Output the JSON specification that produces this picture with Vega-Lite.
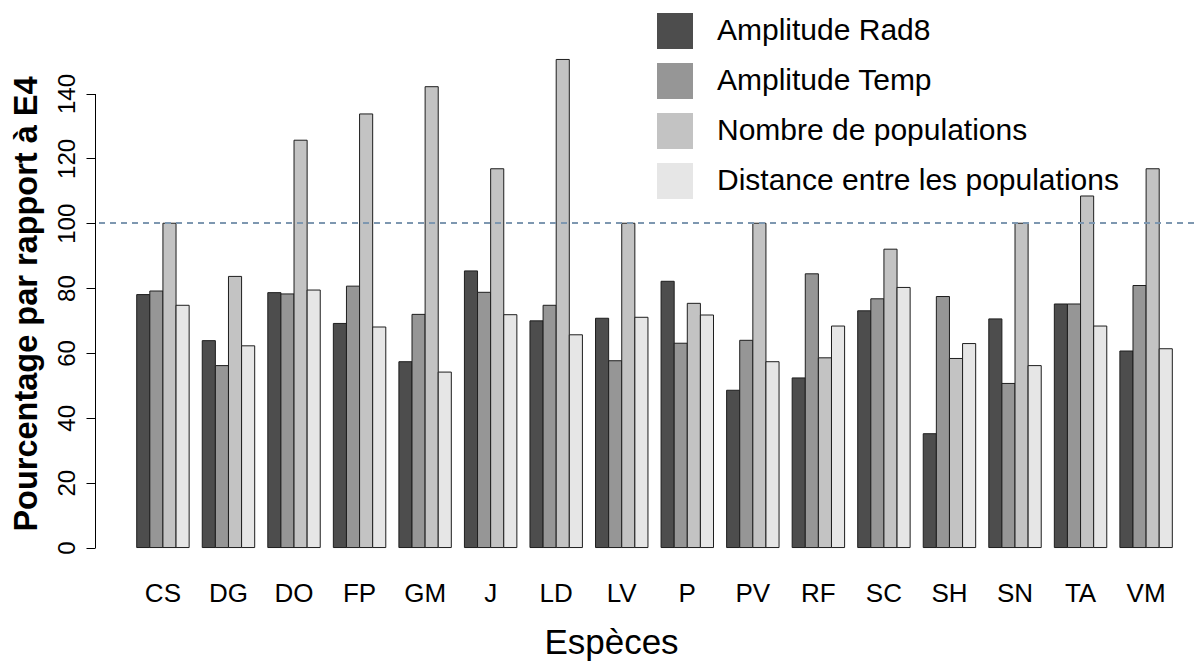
{
  "$schema": "https://vega.github.io/schema/vega-lite/v6.json",
  "width": 1099,
  "height": 527,
  "autosize": {"type": "none"},
  "padding": {"left": 95, "top": 40, "right": 0, "bottom": 97},
  "background": "white",
  "config": {
    "view": {"stroke": null},
    "font": "Liberation Sans",
    "axis": {"labelColor": "black", "titleColor": "black", "grid": false},
    "axisY": {"labelFontSize": 24},
    "legend": {"padding": 0}
  },
  "data": {
    "values": [
      {"espece": "CS", "variable": "Amplitude Rad8", "valeur": 78.0},
      {"espece": "CS", "variable": "Amplitude Temp", "valeur": 79.1},
      {"espece": "CS", "variable": "Nombre de populations", "valeur": 100.0},
      {"espece": "CS", "variable": "Distance entre les populations", "valeur": 74.7},
      {"espece": "DG", "variable": "Amplitude Rad8", "valeur": 63.8},
      {"espece": "DG", "variable": "Amplitude Temp", "valeur": 56.1},
      {"espece": "DG", "variable": "Nombre de populations", "valeur": 83.6},
      {"espece": "DG", "variable": "Distance entre les populations", "valeur": 62.2},
      {"espece": "DO", "variable": "Amplitude Rad8", "valeur": 78.6},
      {"espece": "DO", "variable": "Amplitude Temp", "valeur": 78.2},
      {"espece": "DO", "variable": "Nombre de populations", "valeur": 125.6},
      {"espece": "DO", "variable": "Distance entre les populations", "valeur": 79.4},
      {"espece": "FP", "variable": "Amplitude Rad8", "valeur": 69.1},
      {"espece": "FP", "variable": "Amplitude Temp", "valeur": 80.6},
      {"espece": "FP", "variable": "Nombre de populations", "valeur": 133.7},
      {"espece": "FP", "variable": "Distance entre les populations", "valeur": 68.0},
      {"espece": "GM", "variable": "Amplitude Rad8", "valeur": 57.3},
      {"espece": "GM", "variable": "Amplitude Temp", "valeur": 71.9},
      {"espece": "GM", "variable": "Nombre de populations", "valeur": 142.1},
      {"espece": "GM", "variable": "Distance entre les populations", "valeur": 54.1},
      {"espece": "J", "variable": "Amplitude Rad8", "valeur": 85.3},
      {"espece": "J", "variable": "Amplitude Temp", "valeur": 78.7},
      {"espece": "J", "variable": "Nombre de populations", "valeur": 116.8},
      {"espece": "J", "variable": "Distance entre les populations", "valeur": 71.8},
      {"espece": "LD", "variable": "Amplitude Rad8", "valeur": 69.9},
      {"espece": "LD", "variable": "Amplitude Temp", "valeur": 74.7},
      {"espece": "LD", "variable": "Nombre de populations", "valeur": 150.5},
      {"espece": "LD", "variable": "Distance entre les populations", "valeur": 65.6},
      {"espece": "LV", "variable": "Amplitude Rad8", "valeur": 70.7},
      {"espece": "LV", "variable": "Amplitude Temp", "valeur": 57.6},
      {"espece": "LV", "variable": "Nombre de populations", "valeur": 100.0},
      {"espece": "LV", "variable": "Distance entre les populations", "valeur": 71.0},
      {"espece": "P", "variable": "Amplitude Rad8", "valeur": 82.1},
      {"espece": "P", "variable": "Amplitude Temp", "valeur": 63.0},
      {"espece": "P", "variable": "Nombre de populations", "valeur": 75.3},
      {"espece": "P", "variable": "Distance entre les populations", "valeur": 71.7},
      {"espece": "PV", "variable": "Amplitude Rad8", "valeur": 48.5},
      {"espece": "PV", "variable": "Amplitude Temp", "valeur": 63.9},
      {"espece": "PV", "variable": "Nombre de populations", "valeur": 100.0},
      {"espece": "PV", "variable": "Distance entre les populations", "valeur": 57.3},
      {"espece": "RF", "variable": "Amplitude Rad8", "valeur": 52.3},
      {"espece": "RF", "variable": "Amplitude Temp", "valeur": 84.4},
      {"espece": "RF", "variable": "Nombre de populations", "valeur": 58.5},
      {"espece": "RF", "variable": "Distance entre les populations", "valeur": 68.3},
      {"espece": "SC", "variable": "Amplitude Rad8", "valeur": 73.0},
      {"espece": "SC", "variable": "Amplitude Temp", "valeur": 76.7},
      {"espece": "SC", "variable": "Nombre de populations", "valeur": 92.0},
      {"espece": "SC", "variable": "Distance entre les populations", "valeur": 80.2},
      {"espece": "SH", "variable": "Amplitude Rad8", "valeur": 35.1},
      {"espece": "SH", "variable": "Amplitude Temp", "valeur": 77.4},
      {"espece": "SH", "variable": "Nombre de populations", "valeur": 58.3},
      {"espece": "SH", "variable": "Distance entre les populations", "valeur": 62.9},
      {"espece": "SN", "variable": "Amplitude Rad8", "valeur": 70.5},
      {"espece": "SN", "variable": "Amplitude Temp", "valeur": 50.6},
      {"espece": "SN", "variable": "Nombre de populations", "valeur": 100.0},
      {"espece": "SN", "variable": "Distance entre les populations", "valeur": 56.1},
      {"espece": "TA", "variable": "Amplitude Rad8", "valeur": 75.1},
      {"espece": "TA", "variable": "Amplitude Temp", "valeur": 75.1},
      {"espece": "TA", "variable": "Nombre de populations", "valeur": 108.4},
      {"espece": "TA", "variable": "Distance entre les populations", "valeur": 68.3},
      {"espece": "VM", "variable": "Amplitude Rad8", "valeur": 60.6},
      {"espece": "VM", "variable": "Amplitude Temp", "valeur": 80.8},
      {"espece": "VM", "variable": "Nombre de populations", "valeur": 116.8},
      {"espece": "VM", "variable": "Distance entre les populations", "valeur": 61.3}
    ]
  },
  "layer": [
    {
      "mark": {"type": "bar", "stroke": "#1e1e1e", "strokeWidth": 1},
      "encoding": {
        "x": {
          "field": "espece",
          "type": "nominal",
          "sort": null,
          "scale": {"paddingInner": 0.2, "paddingOuter": 0.4836, "align": 0.658},
          "axis": {
            "title": "Espèces",
            "labelAngle": 0,
            "ticks": false,
            "tickSize": 0,
            "domain": false,
            "labelFontSize": 26,
            "labelPadding": 13,
            "titleFontSize": 35,
            "titleFontWeight": "normal",
            "titlePadding": 19,
            "titleX": 516,
            "titleAlign": "center"
          }
        },
        "xOffset": {
          "field": "variable",
          "type": "nominal",
          "sort": ["Amplitude Rad8", "Amplitude Temp", "Nombre de populations", "Distance entre les populations"],
          "scale": {"paddingInner": 0, "paddingOuter": 0}
        },
        "y": {
          "field": "valeur",
          "type": "quantitative",
          "scale": {"domain": [-6, 156.5], "nice": false, "zero": false},
          "axis": {
            "title": "Pourcentage par rapport à E4",
            "values": [0, 20, 40, 60, 80, 100, 120, 140],
            "tickSize": 9,
            "tickColor": "black",
            "domainColor": "black",
            "domainDash": [0, 19.46, 454.03, 2000],
            "labelAngle": 270,
            "labelAlign": "center",
            "labelBaseline": "bottom",
            "labelFontSize": 24,
            "labelPadding": 7,
            "titleFontSize": 32.5,
            "titleFontWeight": "bold",
            "titlePadding": 12
          }
        },
        "y2": {"datum": 0},
        "fill": {
          "field": "variable",
          "type": "nominal",
          "scale": {
            "domain": ["Amplitude Rad8", "Amplitude Temp", "Nombre de populations", "Distance entre les populations"],
            "range": ["#4d4d4d", "#969696", "#c3c3c3", "#e6e6e6"]
          },
          "legend": {
            "orient": "none",
            "legendX": 562,
            "legendY": -27,
            "title": null,
            "symbolType": "square",
            "symbolSize": 1296,
            "symbolStrokeWidth": 0,
            "symbolStrokeColor": "transparent",
            "labelFontSize": 30,
            "labelColor": "black",
            "labelOffset": 24,
            "labelLimit": 700,
            "rowPadding": 14
          }
        }
      }
    },
    {
      "mark": {"type": "rule", "strokeDash": [6, 5], "color": "#7d98b1", "strokeWidth": 1},
      "encoding": {"y": {"datum": 100}}
    }
  ]
}
